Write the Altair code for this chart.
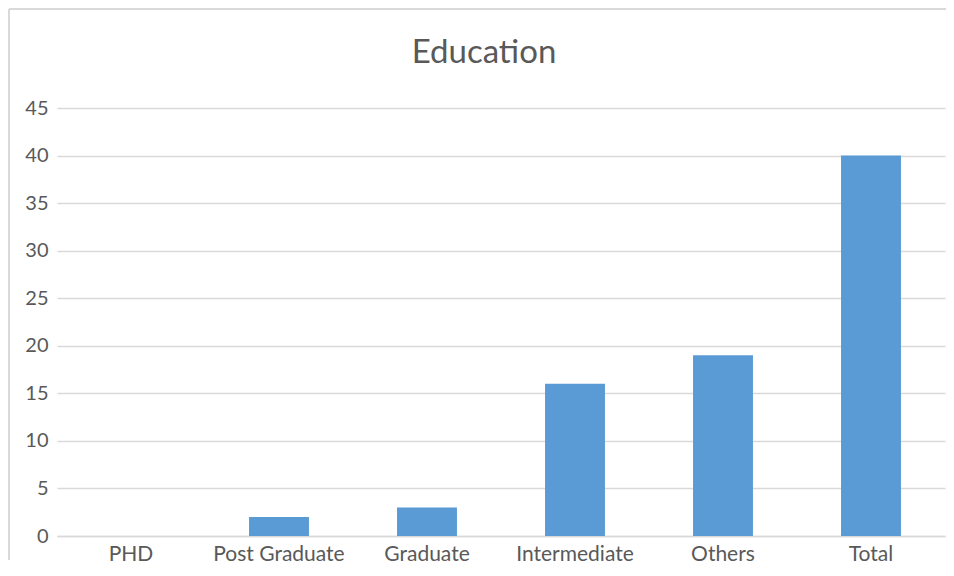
import altair as alt
import pandas as pd

categories = ["PHD", "Post Graduate", "Graduate", "Intermediate", "Others", "Total"]
values = [0, 2, 3, 16, 19, 40]
title_text = "Education"

df = pd.DataFrame({"category": categories, "value": values})

GRAY = "#d9d9d9"
TEXT = "#595959"

bars = alt.Chart(df).mark_bar(color="#5B9BD5").encode(
    x=alt.X("category:N", sort=categories, title=None,
            scale=alt.Scale(paddingInner=0.595, paddingOuter=0.2975),
            axis=alt.Axis(labelAngle=0, ticks=False, domainColor=GRAY, domainWidth=1.5,
                          labelPadding=7, labelFontSize=21, labelColor=TEXT, labelFont="Lato")),
    y=alt.Y("value:Q", title=None,
            scale=alt.Scale(domain=[0, 45], nice=False),
            axis=alt.Axis(values=list(range(0, 50, 5)), ticks=False, domain=False,
                          gridColor=GRAY, gridWidth=1.5, labelPadding=9,
                          labelFontSize=20, labelColor=TEXT, labelFont="Lato")),
)

title = alt.Chart(alt.Data(values=[{}])).mark_text(
    font="Lato", fontSize=33, color=TEXT, align="center", baseline="alphabetic"
).encode(x=alt.value(427), y=alt.value(-45), text=alt.value(title_text))

border = alt.Chart(alt.Data(values=[{}])).mark_rule(color=GRAY, strokeWidth=2).encode(
    x=alt.value(-48), y=alt.value(-99), y2=alt.value(452)
)
border_top = alt.Chart(alt.Data(values=[{}])).mark_rule(color=GRAY, strokeWidth=2).encode(
    x=alt.value(-48), x2=alt.value(889), y=alt.value(-99)
)

chart = alt.layer(bars, title, border, border_top).properties(
    width=888, height=428,
    autosize=alt.AutoSizeParams(type="none"),
    padding={"left": 49, "top": 100, "right": 1, "bottom": 32},
).configure_view(stroke=None)

chart.save("out.html", embed_options={"renderer": "svg", "actions": False})
